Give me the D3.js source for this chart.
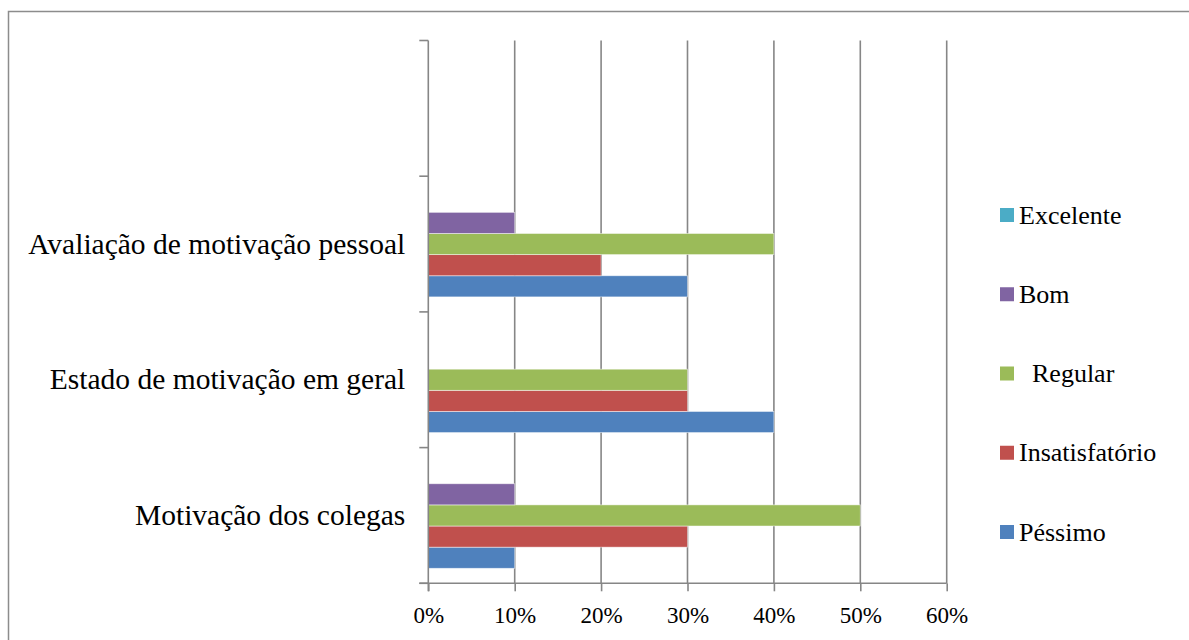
<!DOCTYPE html>
<html>
<head>
<meta charset="utf-8">
<script src="https://cdn.jsdelivr.net/npm/d3@7"></script>
</head>
<body style="margin:0">
<svg id="chart" width="1189" height="640" style="display:block"></svg>
<script>
// Categories listed bottom to top (the top row is blank)
const categories = ["Motivação dos colegas", "Estado de motivação em geral", "Avaliação de motivação pessoal", ""];

// Share of answers (%) per rating, aligned with categories
const pessimo        = [10, 40, 30, 0];
const insatisfatorio = [30, 30, 20, 0];
const regular        = [50, 30, 40, 0];
const bom            = [10, 0, 10, 0];
const excelente      = [0, 0, 0, 0];

const seriesNames  = ["Péssimo", "Insatisfatório", "Regular", "Bom", "Excelente"];
const legendLabels = ["Péssimo", "Insatisfatório", "\u00a0\u00a0Regular", "Bom", "Excelente"];
const seriesValues = [pessimo, insatisfatorio, regular, bom, excelente];
const seriesColors = ["#4F81BD", "#C0504D", "#9BBB59", "#8064A2", "#4BACC6"];

const xTicks = [0, 10, 20, 30, 40, 50, 60];

const serif = '"Liberation Serif"';
const svg = d3.select("#chart");

// outer chart frame (runs past the right and bottom edges)
svg.append("rect")
  .attr("x", 8.5).attr("y", 11.5)
  .attr("width", 1200).attr("height", 660)
  .attr("fill", "none").attr("stroke", "#8c8c8c").attr("stroke-width", 1.5);

const plot = { left: 428.3, right: 946.7, top: 40.5, bottom: 583.3 };

const x = d3.scaleLinear().domain([0, 60]).range([plot.left, plot.right]);

// top-to-bottom order of the rows
const y = d3.scaleBand()
  .domain(categories.slice().reverse())
  .range([plot.top, plot.bottom])
  .padding(0);

// bars within a row: Excelente on top, Péssimo at the bottom
const ySub = d3.scaleBand()
  .domain(seriesNames.slice().reverse())
  .range([0, y.bandwidth()])
  .paddingInner(0)
  .paddingOuter(0.71);

const gridColor = "#868686";

// vertical gridlines
svg.append("g")
  .selectAll("line")
  .data(xTicks.slice(1))
  .join("line")
  .attr("x1", d => x(d)).attr("x2", d => x(d))
  .attr("y1", plot.top).attr("y2", plot.bottom)
  .attr("stroke", gridColor).attr("stroke-width", 1.6);

// bars
const rows = [];
seriesNames.forEach((s, si) => {
  categories.forEach((c, ci) => {
    rows.push({ series: s, cat: c, value: seriesValues[si][ci], color: seriesColors[si] });
  });
});

svg.append("g")
  .selectAll("rect")
  .data(rows.filter(d => d.value > 0))
  .join("rect")
  .attr("x", x(0))
  .attr("y", d => y(d.cat) + ySub(d.series))
  .attr("width", d => x(d.value) - x(0))
  .attr("height", ySub.bandwidth())
  .attr("fill", d => d.color)
  .attr("stroke", "#ffffff")
  .attr("stroke-opacity", 0.6)
  .attr("stroke-width", 0.8);

// x axis
const xAxis = svg.append("g")
  .attr("transform", `translate(0,${plot.bottom})`)
  .call(d3.axisBottom(x).tickValues(xTicks).tickFormat(d => d + "%").tickSize(8).tickSizeOuter(0));
xAxis.attr("font-family", null).attr("font-size", null);
xAxis.select(".domain").attr("stroke", gridColor).attr("stroke-width", 1.6)
  .attr("d", `M${plot.left - 9},0H${plot.right}`);
xAxis.selectAll(".tick line").attr("stroke", gridColor).attr("stroke-width", 1.6);
xAxis.selectAll(".tick text")
  .attr("fill", "#000")
  .style("font-family", serif)
  .attr("font-size", 23)
  .attr("dy", 0).attr("y", 40);

// y axis with ticks at the row boundaries
const yAxisG = svg.append("g").attr("transform", `translate(${plot.left},0)`);
yAxisG.append("line")
  .attr("x1", 0).attr("x2", 0)
  .attr("y1", plot.top).attr("y2", plot.bottom + 8)
  .attr("stroke", gridColor).attr("stroke-width", 1.6);
const boundaries = y.domain().map(c => y(c)).concat([plot.bottom]);
yAxisG.selectAll("line.tk")
  .data(boundaries)
  .join("line")
  .attr("class", "tk")
  .attr("x1", -9).attr("x2", 0)
  .attr("y1", d => d).attr("y2", d => d)
  .attr("stroke", gridColor).attr("stroke-width", 1.6);

// category labels
svg.append("g")
  .selectAll("text")
  .data(categories)
  .join("text")
  .attr("x", plot.left - 23)
  .attr("y", d => y(d) + y.bandwidth() / 2)
  .attr("dy", "0.33em")
  .attr("text-anchor", "end")
  .style("font-family", serif)
  .attr("font-size", 29.5)
  .attr("fill", "#000")
  .text(d => d);

// legend, Excelente at the top
const legendOrder = d3.range(seriesNames.length).reverse();
const ly = d3.scalePoint().domain(legendOrder).range([215, 532]);
const legend = svg.append("g");
legendOrder.forEach(i => {
  legend.append("rect")
    .attr("x", 1000).attr("y", ly(i) - 7)
    .attr("width", 14).attr("height", 14)
    .attr("fill", seriesColors[i]);
  legend.append("text")
    .attr("x", 1019).attr("y", ly(i))
    .attr("dy", "0.33em")
    .style("font-family", serif)
    .attr("font-size", 26)
    .attr("fill", "#000")
    .text(legendLabels[i]);
});
</script>
</body>
</html>
